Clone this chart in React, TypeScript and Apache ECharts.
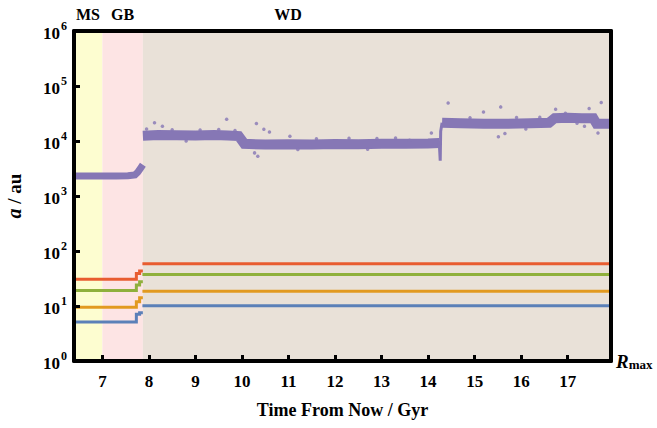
import React, { useEffect, useRef } from 'react';
import * as echarts from 'echarts';

// ---- axis ranges ----
const X_MIN = 6.39;
const X_MAX = 17.93;
const Y_MIN = 1;
const Y_MAX = 1e6;
const xTickValues = [7, 8, 9, 10, 11, 12, 13, 14, 15, 16, 17];

// ---- evolutionary phases (Gyr from now) ----
const phaseNames = ['MS', 'GB', 'WD'];
const phaseStarts = [6.39, 7.0, 7.87];
const phaseEnds = [7.0, 7.87, 17.93];

// ---- outer companion (purple scatter band), a / au ----
const purpleMS: [number, number][] = [
  [6.39, 2300], [6.7, 2320], [7.0, 2300], [7.3, 2310], [7.55, 2330], [7.7, 2420],
  [7.76, 2700], [7.82, 3200], [7.87, 3700],
];
const purpleWD1: [number, number][] = [
  [7.87, 12500], [8.2, 12900], [8.6, 12700], [9.0, 12600], [9.4, 12800], [9.7, 12600],
  [9.93, 12300], [10.05, 8900], [10.5, 8600], [11.0, 8700], [11.5, 8600], [12.0, 8800],
  [12.5, 8700], [13.0, 8900], [13.5, 8900], [14.0, 9000], [14.24, 9200],
];
const purpleSpike: [number, number][] = [
  [14.24, 9200], [14.26, 4400], [14.27, 15000], [14.3, 21500],
];
const purpleWD2: [number, number][] = [
  [14.3, 21500], [14.7, 21000], [15.2, 20500], [15.7, 20500], [16.2, 21000], [16.6, 21500],
  [16.72, 26000], [17.0, 26500], [17.3, 26000], [17.55, 26000], [17.62, 20500], [17.93, 20500],
];
const purpleOutliers: [number, number][] = [
  [9.67, 24900], [10.31, 20800], [8.12, 21400], [10.27, 6080], [10.34, 5300], [8.29, 18600],
  [10.47, 16400], [10.59, 14600], [11.03, 12200], [14.07, 14000], [13.6, 10300],
  [14.43, 49200], [15.56, 41700], [17.72, 50000], [15.51, 11900], [15.65, 13700],
  [16.74, 37800], [17.46, 38900], [17.65, 14000], [17.36, 18600], [15.19, 33800],
  [7.95, 16500], [8.5, 16000], [9.1, 15800], [9.5, 16200], [9.85, 15500], [8.8, 10000],
  [11.6, 11000], [12.3, 11200], [12.9, 11100], [13.3, 11300], [11.2, 7000], [12.7, 7100],
  [14.9, 26500], [15.9, 26800], [16.4, 27000], [16.1, 16500], [16.95, 32000], [17.2, 21000],
];

// ---- inner planets, a / au (before and after the WD transition) ----
const redEarly: [number, number][] = [[6.39, 30.5], [7.73, 30.5], [7.73, 39], [7.8, 39], [7.8, 43.5], [7.87, 43.5]];
const redLate: [number, number][] = [[7.86, 58.5], [17.93, 58.5]];
const greenEarly: [number, number][] = [[6.39, 19.2], [7.73, 19.2], [7.73, 24], [7.8, 24], [7.8, 27.6], [7.87, 27.6]];
const greenLate: [number, number][] = [[7.86, 37.3], [17.93, 37.3]];
const yellowEarly: [number, number][] = [[6.39, 9.5], [7.73, 9.5], [7.73, 11.9], [7.8, 11.9], [7.8, 14.1], [7.87, 14.1]];
const yellowLate: [number, number][] = [[7.86, 18.5], [17.93, 18.5]];
const blueEarly: [number, number][] = [[6.39, 5.1], [7.73, 5.1], [7.73, 7.1], [7.8, 7.1], [7.8, 7.5], [7.87, 7.5]];
const blueLate: [number, number][] = [[7.86, 10.1], [17.93, 10.1]];

const SERIF = '"Liberation Serif", "Times New Roman", serif';
const PURPLE = '#8677b5';
const phaseColors = ['#fdfdd0', '#fde4e4', '#e9e1d8'];

export default function App() {
  const ref = useRef<HTMLDivElement>(null);
  useEffect(() => {
    if (!ref.current) return;
    const chart = echarts.init(ref.current, null, { renderer: 'svg' });
    const lineSeries = (data: [number, number][], color: string, width: number, z = 4) => ({
      type: 'line',
      data,
      showSymbol: false,
      symbol: 'none',
      silent: true,
      z,
      lineStyle: { color, width, cap: 'butt', join: 'miter' },
      xAxisIndex: 0,
      yAxisIndex: 0,
    });
    const textStyle = (text: string, size: number) => ({
      text, fontFamily: SERIF, fontWeight: 'bold', fontSize: size, fill: '#000', align: 'center', verticalAlign: 'middle',
    });
    const option: any = {
      animation: false,
      backgroundColor: '#ffffff',
      grid: { left: 74, right: 46, top: 31, bottom: 67, containLabel: false, outerBoundsMode: 'none' },
      xAxis: [
        {
          type: 'value', min: X_MIN, max: X_MAX, position: 'bottom', z: 10,
          axisLine: { show: true, onZero: false, lineStyle: { color: '#000', width: 4 } },
          axisTick: { show: true, inside: true, length: 6, customValues: xTickValues, lineStyle: { color: '#000', width: 3 } },
          axisLabel: {
            margin: 12, fontFamily: SERIF, fontWeight: 'bold', fontSize: 17, color: '#000',
            customValues: xTickValues,
            formatter: (v: number) => String(Math.round(v)),
          },
          splitLine: { show: false },
          name: 'Time From Now / Gyr', nameLocation: 'middle', nameGap: 40,
          nameTextStyle: { fontFamily: SERIF, fontWeight: 'bold', fontSize: 18, color: '#000' },
        },
        {
          type: 'value', min: X_MIN, max: X_MAX, position: 'top', z: 10,
          axisLine: { show: true, onZero: false, lineStyle: { color: '#000', width: 4 } },
          axisTick: { show: false }, axisLabel: { show: false }, splitLine: { show: false },
        },
      ],
      yAxis: [
        {
          type: 'log', logBase: 10, min: Y_MIN, max: Y_MAX, splitNumber: 6, position: 'left', z: 10,
          axisLine: { show: true, onZero: false, lineStyle: { color: '#000', width: 4 } },
          axisTick: { show: true, inside: true, length: 6, lineStyle: { color: '#000', width: 3 } },
          axisLabel: {
            margin: 7, color: '#000',
            formatter: (v: number) => `{b|10}{s|${Math.round(Math.log10(v))}}`,
            rich: {
              b: { fontFamily: SERIF, fontWeight: 'bold', fontSize: 17, color: '#000', lineHeight: 22, verticalAlign: 'bottom' },
              s: { fontFamily: SERIF, fontWeight: 'bold', fontSize: 12, color: '#000', lineHeight: 22, verticalAlign: 'top', padding: [0, 0, 0, 1] },
            },
          },
          splitLine: { show: false },
          name: '{i|a} / au', nameLocation: 'middle', nameGap: 50,
          nameTextStyle: {
            fontFamily: SERIF, fontWeight: 'bold', fontSize: 19, color: '#000',
            rich: { i: { fontFamily: SERIF, fontWeight: 'bold', fontStyle: 'italic', fontSize: 20, color: '#000' } },
          },
        },
        {
          type: 'log', logBase: 10, min: Y_MIN, max: Y_MAX, splitNumber: 6, position: 'right', z: 10,
          axisLine: { show: true, onZero: false, lineStyle: { color: '#000', width: 4 } },
          axisTick: { show: false }, splitLine: { show: false },
          axisLabel: {
            margin: 5, color: '#000',
            formatter: (v: number) => (Math.abs(v - 1) < 1e-9 ? '{r|R}{m|max}' : ''),
            rich: {
              r: { fontFamily: SERIF, fontWeight: 'bold', fontStyle: 'italic', fontSize: 19, color: '#000', verticalAlign: 'bottom', lineHeight: 20 },
              m: { fontFamily: SERIF, fontWeight: 'bold', fontSize: 13, color: '#000', verticalAlign: 'bottom', lineHeight: 18 },
            },
          },
        },
      ],
      graphic: [
        { type: 'text', x: 88, y: 14.5, style: textStyle(phaseNames[0], 16) },
        { type: 'text', x: 122.5, y: 14.5, style: textStyle(phaseNames[1], 16) },
        { type: 'text', x: 288, y: 14.5, style: textStyle(phaseNames[2], 16) },
        { type: 'text', x: 521, y: 56, style: textStyle('STABLE', 22) },
      ],
      series: [
        {
          type: 'line', data: [[X_MIN, 1]], showSymbol: false, symbol: 'none', silent: true, z: 1,
          lineStyle: { opacity: 0 },
          markArea: {
            silent: true,
            label: { show: false },
            data: phaseNames.map((n, i) => [
              { name: n, xAxis: phaseStarts[i], itemStyle: { color: phaseColors[i], opacity: 1 } },
              { xAxis: phaseEnds[i] },
            ]),
          },
        },
        lineSeries(purpleMS, PURPLE, 7, 3),
        lineSeries(purpleWD1, PURPLE, 10, 3),
        lineSeries(purpleSpike, PURPLE, 3, 3),
        lineSeries(purpleWD2, PURPLE, 10, 3),
        {
          type: 'scatter', data: purpleOutliers, symbolSize: 3.5, silent: true, z: 3,
          itemStyle: { color: PURPLE },
        },
        lineSeries(redEarly, '#e85c30', 3),
        lineSeries(redLate, '#e85c30', 3),
        lineSeries(greenEarly, '#8fb03c', 3),
        lineSeries(greenLate, '#8fb03c', 3),
        lineSeries(yellowEarly, '#e29a20', 3),
        lineSeries(yellowLate, '#e29a20', 3),
        lineSeries(blueEarly, '#5b80b8', 3),
        lineSeries(blueLate, '#5b80b8', 3),
      ],
    };
    chart.setOption(option);
    return () => chart.dispose();
  }, []);
  return <div ref={ref} style={{ position: 'fixed', left: 0, top: 0, width: 657, height: 428 }} />;
}
